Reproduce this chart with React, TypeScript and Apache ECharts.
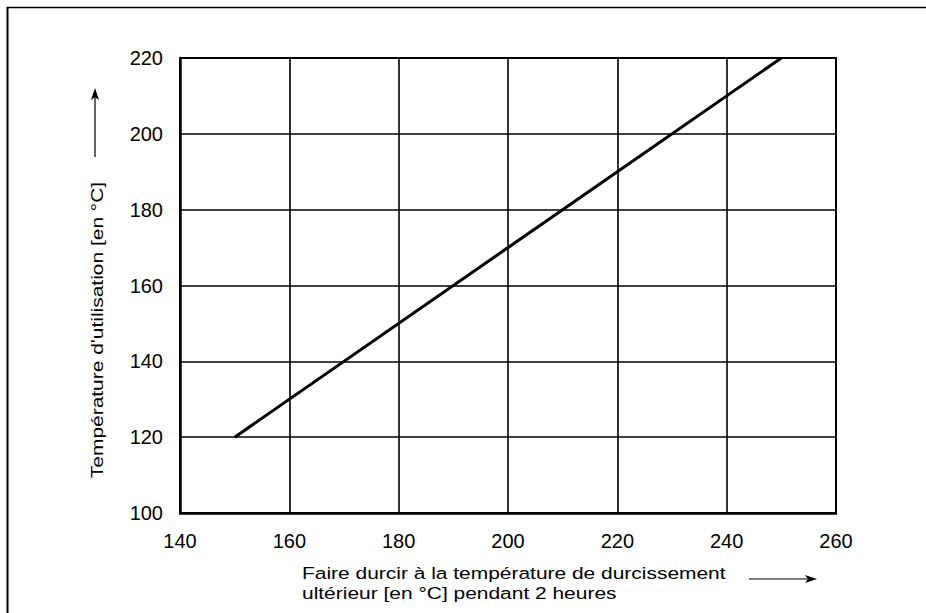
import React, { useEffect, useRef } from "react";
import * as echarts from "echarts";

const xTicks = [140, 160, 180, 200, 220, 240, 260];
const yTicks = [100, 120, 140, 160, 180, 200, 220];
const cureTemp = [150, 250];
const useTemp = [120, 220];
const xTitleLines = [
  "Faire durcir à la température de durcissement",
  "ultérieur [en °C] pendant 2 heures",
];
const yTitle = "Température d'utilisation [en °C]";

export default function App() {
  const ref = useRef<HTMLDivElement>(null);
  useEffect(() => {
    document.body.style.margin = "0";
    document.body.style.overflow = "hidden";
    if (!ref.current) return;
    const chart = echarts.init(ref.current, null, { renderer: "svg" });
    const font = "'Liberation Sans', Arial, sans-serif";
    const titleFont = `16.5px ${font}`;
    chart.setOption({
      animation: false,
      backgroundColor: "#fff",
      grid: {
        left: 180,
        right: 90,
        top: 58,
        bottom: 100,
        show: true,
        borderColor: "#000",
        borderWidth: 2,
      },
      xAxis: {
        type: "value",
        min: xTicks[0],
        max: xTicks[xTicks.length - 1],
        interval: 20,
        axisLine: { show: true, lineStyle: { color: "#000", width: 2.5 } },
        axisTick: { show: false },
        axisLabel: { color: "#000", fontSize: 20, fontFamily: font, margin: 18 },
        splitLine: { show: true, lineStyle: { color: "#000", width: 1.6 } },
      },
      yAxis: {
        type: "value",
        min: yTicks[0],
        max: yTicks[yTicks.length - 1],
        interval: 20,
        axisLine: { show: true, lineStyle: { color: "#000", width: 2.5 } },
        axisTick: { show: false },
        axisLabel: { color: "#000", fontSize: 20, fontFamily: font, margin: 17 },
        splitLine: { show: true, lineStyle: { color: "#000", width: 1.6 } },
      },
      series: [
        {
          type: "line",
          data: cureTemp.map((x, i) => [x, useTemp[i]]),
          symbol: "none",
          lineStyle: { color: "#000", width: 3 },
        },
      ],
      graphic: [
        { type: "line", shape: { x1: 7.5, y1: 7, x2: 7.5, y2: 613 }, style: { stroke: "#000", lineWidth: 2 } },
        { type: "line", shape: { x1: 7, y1: 7.5, x2: 926, y2: 7.5 }, style: { stroke: "#000", lineWidth: 1.5 } },
        {
          type: "text",
          x: 302,
          y: 573,
          scaleX: 1.27,
          style: { text: xTitleLines[0], fill: "#000", font: titleFont, verticalAlign: "middle" },
        },
        {
          type: "text",
          x: 302,
          y: 593,
          scaleX: 1.27,
          style: { text: xTitleLines[1], fill: "#000", font: titleFont, verticalAlign: "middle" },
        },
        {
          type: "text",
          x: 97,
          y: 330,
          rotation: Math.PI / 2,
          scaleX: 1.27,
          style: { text: yTitle, fill: "#000", font: titleFont, align: "center", verticalAlign: "middle" },
        },
        { type: "line", shape: { x1: 749, y1: 579, x2: 808, y2: 579 }, style: { stroke: "#000", lineWidth: 1.2 } },
        { type: "polygon", shape: { points: [[817, 579], [805, 575], [808, 579], [805, 583]] }, style: { fill: "#000" } },
        { type: "line", shape: { x1: 95, y1: 157, x2: 95, y2: 97 }, style: { stroke: "#000", lineWidth: 1.2 } },
        { type: "polygon", shape: { points: [[95, 88], [91, 100], [95, 97], [99, 100]] }, style: { fill: "#000" } },
      ],
    });
    return () => chart.dispose();
  }, []);
  return <div ref={ref} style={{ width: 926, height: 613 }} />;
}
